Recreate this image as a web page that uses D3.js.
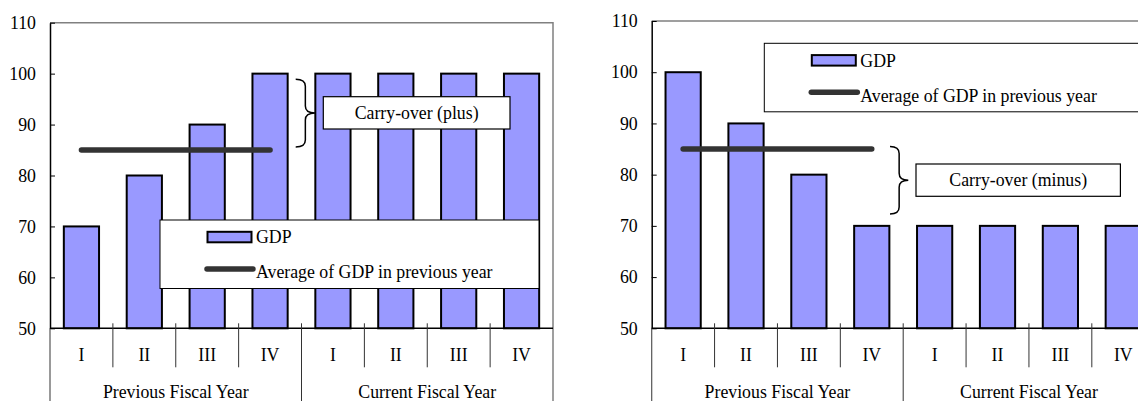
<!DOCTYPE html>
<html>
<head>
<meta charset="utf-8">
<script src="https://cdn.jsdelivr.net/npm/d3@7"></script>
<style>
  html, body { margin: 0; padding: 0; background: #fff; }
  svg { display: block; }
</style>
</head>
<body>
<svg id="chart" width="1138" height="401"></svg>
<script>
// Quarter labels and the fiscal-year groups beneath them
const quarters = ["I", "II", "III", "IV", "I", "II", "III", "IV"];
const fiscalYears = ["Previous Fiscal Year", "Current Fiscal Year"];

// GDP by quarter for the rising case and the falling case
const gdpRising = [70, 80, 90, 100, 100, 100, 100, 100];
const gdpFalling = [100, 90, 80, 70, 70, 70, 70, 70];

// Average of GDP over the previous fiscal year (quarters I–IV)
const avgRising = d3.mean(gdpRising.slice(0, 4));
const avgFalling = d3.mean(gdpFalling.slice(0, 4));

// Value axis
const yDomain = [50, 110];
const yTicks = [50, 60, 70, 80, 90, 100, 110];

// Legend and annotation texts
const legendLabels = ["GDP", "Average of GDP in previous year"];
const carryLabels = ["Carry-over (plus)", "Carry-over (minus)"];

const BAR_FILL = "#9999ff";
const LINE_COLOR = "#333333";
const FRAME_GRAY = "#808080";
const FONT = "Liberation Serif";
const FONT_SIZE = "17.8px";

const svg = d3.select("#chart");
const H = 401;

function styleText(sel) {
  return sel
    .attr("font-family", FONT)
    .style("font-family", `"${FONT}"`)
    .style("font-size", FONT_SIZE)
    .attr("fill", "#000");
}

function drawPanel(cfg) {
  const g = svg.append("g");
  const left = cfg.left, top = cfg.top, base = 328.3, width = 503;
  const right = left + width;

  const x = d3.scaleBand()
    .domain(d3.range(quarters.length))
    .range([left, right])
    .paddingInner(0.44)
    .paddingOuter(0.22);
  const step = x.step();
  const y = d3.scaleLinear().domain(yDomain).range([base, top]);

  // Frame: top and right edges in gray
  g.append("path")
    .attr("d", `M${left},${top}H${right}V${H}`)
    .attr("fill", "none")
    .attr("stroke", FRAME_GRAY)
    .attr("stroke-width", 1.5);

  // Bars
  g.selectAll("rect.bar")
    .data(cfg.values)
    .join("rect")
    .attr("class", "bar")
    .attr("x", (d, i) => x(i))
    .attr("width", x.bandwidth())
    .attr("y", d => y(d))
    .attr("height", d => y(yDomain[0]) - y(d))
    .attr("fill", BAR_FILL)
    .attr("stroke", "#000")
    .attr("stroke-width", 2);

  // Previous-year average, spanning quarters I–IV of the previous year
  g.append("line")
    .attr("x1", x(0) + x.bandwidth() / 2)
    .attr("x2", x(3) + x.bandwidth() / 2)
    .attr("y1", y(cfg.avg))
    .attr("y2", y(cfg.avg))
    .attr("stroke", LINE_COLOR)
    .attr("stroke-width", 5.5)
    .attr("stroke-linecap", "round");

  // Value axis with inward ticks
  const yAxis = d3.axisLeft(y)
    .tickValues(yTicks)
    .tickSizeInner(-5)
    .tickSizeOuter(0)
    .tickPadding(14);
  const ya = g.append("g")
    .attr("transform", `translate(${left},0)`)
    .call(yAxis)
    .attr("font-family", FONT)
    .attr("font-size", null);
  ya.select(".domain").attr("stroke", "#000").attr("stroke-width", 1.5);
  ya.selectAll(".tick line").attr("stroke", "#000").attr("stroke-width", 1);
  styleText(ya.selectAll(".tick text"));

  // Left axis continues down through the category area
  g.append("line")
    .attr("x1", left).attr("x2", left)
    .attr("y1", base).attr("y2", H)
    .attr("stroke", "#555").attr("stroke-width", 1.2);

  // Category baseline
  g.append("line")
    .attr("x1", left).attr("x2", right)
    .attr("y1", base).attr("y2", base)
    .attr("stroke", "#000").attr("stroke-width", 1.5);

  // Quarter separators; the year boundary runs to the bottom
  const seps = d3.range(1, quarters.length);
  g.selectAll("line.sep")
    .data(seps)
    .join("line")
    .attr("class", "sep")
    .attr("x1", i => left + i * step)
    .attr("x2", i => left + i * step)
    .attr("y1", base - 5)
    .attr("y2", i => (i === 4 ? H : base + 39))
    .attr("stroke", "#333")
    .attr("stroke-width", 1);

  // Quarter labels
  styleText(g.selectAll("text.q")
    .data(quarters)
    .join("text")
    .attr("class", "q")
    .attr("x", (d, i) => x(i) + x.bandwidth() / 2)
    .attr("y", 360.5)
    .attr("text-anchor", "middle")
    .text(d => d));

  // Fiscal-year labels
  styleText(g.selectAll("text.fy")
    .data(fiscalYears)
    .join("text")
    .attr("class", "fy")
    .attr("x", (d, i) => left + (i * 4 + 2) * step)
    .attr("y", 397.5)
    .attr("text-anchor", "middle")
    .text(d => d));

  // Legend
  const lg = g.append("g").attr("transform", `translate(${left + cfg.legend[0]},${cfg.legend[1]})`);
  lg.append("rect")
    .attr("width", 379).attr("height", 68.5)
    .attr("fill", "#fff").attr("stroke", "#000").attr("stroke-width", 1);
  lg.append("rect")
    .attr("x", 47.5).attr("y", 11.8).attr("width", 44).attr("height", 10.5)
    .attr("fill", BAR_FILL).attr("stroke", "#000").attr("stroke-width", 2);
  styleText(lg.append("text").attr("x", 96).attr("y", 17).attr("dy", "0.35em").text(legendLabels[0]));
  lg.append("line")
    .attr("x1", 47).attr("x2", 93).attr("y1", 49).attr("y2", 49)
    .attr("stroke", LINE_COLOR).attr("stroke-width", 5.5).attr("stroke-linecap", "round");
  styleText(lg.append("text").attr("x", 96).attr("y", 52).attr("dy", "0.35em").text(legendLabels[1]));

  // Brace spanning the carry-over gap
  const bx0 = left + cfg.brace[0], bx1 = left + cfg.brace[1];
  const bxm = (bx0 + bx1) / 2;
  const yT = y(cfg.braceSpan[0]), yB = y(cfg.braceSpan[1]);
  const yM = (yT + yB) / 2, r = 7;
  g.append("path")
    .attr("d",
      `M${bx0},${yT}` +
      `Q${bxm},${yT} ${bxm},${yT + r}` +
      `V${yM - r}` +
      `Q${bxm},${yM} ${bx1},${yM}` +
      `Q${bxm},${yM} ${bxm},${yM + r}` +
      `V${yB - r}` +
      `Q${bxm},${yB} ${bx0},${yB}`)
    .attr("fill", "none")
    .attr("stroke", "#000")
    .attr("stroke-width", 1.5);

  // Carry-over label box
  const cb = cfg.carryBox;
  g.append("rect")
    .attr("x", left + cb[0]).attr("y", cb[1])
    .attr("width", cb[2]).attr("height", cb[3])
    .attr("fill", "#fff").attr("stroke", "#000").attr("stroke-width", 1.2);
  styleText(g.append("text")
    .attr("x", left + cb[0] + cb[2] / 2)
    .attr("y", cb[1] + cb[3] / 2)
    .attr("dy", "0.35em")
    .attr("text-anchor", "middle")
    .text(cfg.carryLabel));
}

drawPanel({
  left: 50, top: 22.7,
  values: gdpRising, avg: avgRising,
  legend: [110, 220],
  brace: [245.7, 265], braceSpan: [98.9, 85.6],
  carryBox: [273.3, 96.7, 186.7, 32.3],
  carryLabel: carryLabels[0]
});

drawPanel({
  left: 651.7, top: 21,
  values: gdpFalling, avg: avgFalling,
  legend: [112.6, 43.3],
  brace: [238.3, 256.6], braceSpan: [85.5, 72.3],
  carryBox: [264.3, 164, 204.4, 32.3],
  carryLabel: carryLabels[1]
});
</script>
</body>
</html>
